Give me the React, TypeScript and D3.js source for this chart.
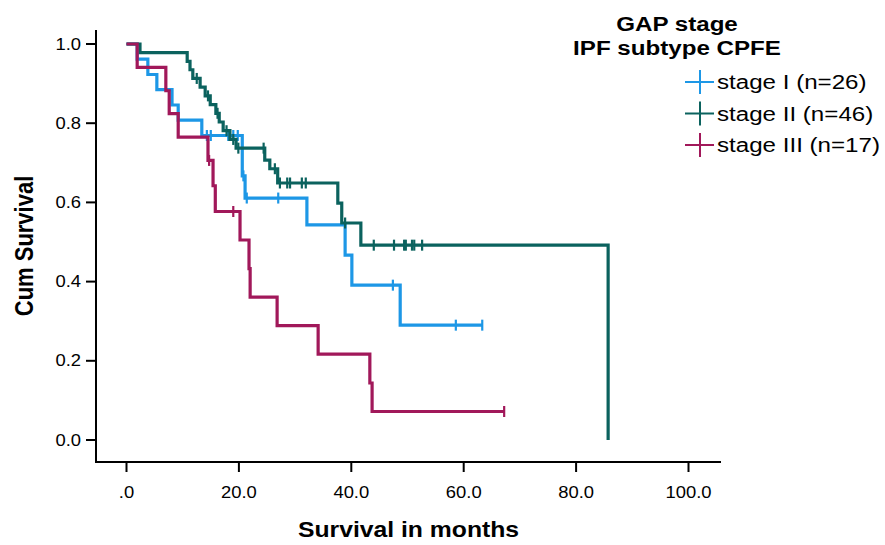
import * as d3 from 'd3';

// Kaplan-Meier steps: event time (months) and survival after the drop
const stage1Times = [1.9, 3.8, 5.4, 8.1, 9.2, 13.4, 20.6, 21.1, 32.1, 38.9, 40.1, 48.7];
const stage1Surv = [0.962, 0.923, 0.885, 0.846, 0.808, 0.769, 0.667, 0.611, 0.543, 0.467, 0.391, 0.29];
const stage1Censored = [14.3, 15.0, 18.1, 19.0, 19.8, 20.8, 21.4, 27.0, 47.4, 58.6, 63.3];

const stage2Times = [2.4, 10.8, 11.3, 11.8, 13.1, 14.0, 14.9, 15.9, 16.5, 17.2, 18.4, 19.5, 24.6, 25.5, 26.9, 37.6, 38.3, 41.7, 85.7];
const stage2Surv = [0.978, 0.956, 0.935, 0.913, 0.891, 0.869, 0.847, 0.825, 0.803, 0.781, 0.759, 0.737, 0.707, 0.685, 0.649, 0.598, 0.548, 0.492, 0];
const stage2Censored = [12.5, 14.5, 16.2, 17.8, 19.0, 19.9, 24.4, 26.4, 27.3, 28.6, 29.1, 31.2, 31.9, 38.9, 44.0, 47.6, 49.4, 49.7, 50.8, 51.2, 52.6];

const stage3Times = [1.9, 7.0, 7.6, 9.2, 14.5, 15.4, 15.8, 20.2, 21.8, 22.0, 26.8, 34.1, 43.3, 43.7];
const stage3Surv = [0.941, 0.882, 0.824, 0.765, 0.706, 0.642, 0.577, 0.505, 0.433, 0.361, 0.289, 0.217, 0.144, 0.072];
const stage3Censored = [14.7, 19.0, 67.2];

const xTicks = [0, 20, 40, 60, 80, 100];
const yTicks = [0, 0.2, 0.4, 0.6, 0.8, 1.0];

const series = [
  { label: 'stage I (n=26)', color: '#1d97e6', times: stage1Times, surv: stage1Surv, censored: stage1Censored },
  { label: 'stage II (n=46)', color: '#0b625e', times: stage2Times, surv: stage2Surv, censored: stage2Censored },
  { label: 'stage III (n=17)', color: '#a1185a', times: stage3Times, surv: stage3Surv, censored: stage3Censored },
];

const FONT = '"Liberation Sans", Arial, Helvetica, sans-serif';
const STRETCH = 1.15; // the original export is a little wider than tall

function Label({ x, y, size, bold, anchor, children }: any) {
  return (
    <text
      transform={`translate(${x},${y}) scale(${STRETCH},1)`}
      textAnchor={anchor || 'start'}
      fontFamily={FONT}
      fontSize={size}
      fontWeight={bold ? 'bold' : 'normal'}
      fill="#000"
    >
      {children}
    </text>
  );
}

export default function App() {
  const width = 885;
  const height = 545;
  const axisLeft = 96;
  const axisRight = 721;
  const axisTop = 30;
  const axisBottom = 462;

  const x = d3.scaleLinear().domain([0, 100]).range([126.5, 688.5]);
  const y = d3.scaleLinear().domain([0, 1]).range([440, 44]);

  const line = d3
    .line<[number, number]>()
    .x((d) => x(d[0]))
    .y((d) => y(d[1]))
    .curve(d3.curveStepAfter);

  const survAt = (times: number[], surv: number[], t: number) => {
    let s = 1;
    times.forEach((tt, i) => {
      if (tt <= t) s = surv[i];
    });
    return s;
  };

  const buildPoints = (s: typeof series[number]) => {
    const pts: [number, number][] = [[0, 1]];
    s.times.forEach((t, i) => pts.push([t, s.surv[i]]));
    const lastT = s.times[s.times.length - 1];
    const lastC = d3.max(s.censored) || 0;
    if (lastC > lastT) pts.push([lastC + 0.1, s.surv[s.surv.length - 1]]);
    return pts;
  };

  return (
    <div style={{ position: 'absolute', left: 0, top: 0 }}>
      <svg width={width} height={height} viewBox={`0 0 ${width} ${height}`} style={{ display: 'block', background: '#fff' }}>
        <rect width={width} height={height} fill="#fff" />

        {/* Curves */}
        {series.map((s) => (
          <g key={s.label}>
            <path d={line(buildPoints(s)) || ''} fill="none" stroke={s.color} strokeWidth={3.2} strokeLinejoin="miter" />
            {s.censored.map((c, i) => {
              const cx = x(c);
              const cy = y(survAt(s.times, s.surv, c));
              return <line key={i} x1={cx} x2={cx} y1={cy - 5.5} y2={cy + 5.5} stroke={s.color} strokeWidth={2.2} />;
            })}
          </g>
        ))}

        {/* Axes */}
        <line x1={axisLeft} x2={axisLeft} y1={axisTop} y2={axisBottom + 1} stroke="#000" strokeWidth={2} />
        <line x1={axisLeft - 1} x2={axisRight} y1={axisBottom} y2={axisBottom} stroke="#000" strokeWidth={2} />

        {yTicks.map((t) => (
          <g key={'y' + t}>
            <line x1={axisLeft - 10} x2={axisLeft} y1={y(t)} y2={y(t)} stroke="#000" strokeWidth={2} />
            <Label x={axisLeft - 15} y={y(t) + 5.5} size={16} anchor="end">
              {t.toFixed(1)}
            </Label>
          </g>
        ))}

        {xTicks.map((t) => (
          <g key={'x' + t}>
            <line x1={x(t)} x2={x(t)} y1={axisBottom} y2={axisBottom + 10} stroke="#000" strokeWidth={2} />
            <Label x={x(t)} y={axisBottom + 36} size={16} anchor="middle">
              {t === 0 ? '.0' : t.toFixed(1)}
            </Label>
          </g>
        ))}

        <Label x={(axisLeft + axisRight) / 2} y={537} size={21.5} bold anchor="middle">
          Survival in months
        </Label>
        <text
          transform={`translate(33, ${(axisTop + axisBottom) / 2}) rotate(-90) scale(1,${STRETCH})`}
          textAnchor="middle"
          fontFamily={FONT}
          fontSize={22}
          fontWeight="bold"
          fill="#000"
        >
          Cum Survival
        </text>

        {/* Legend */}
        <Label x={677} y={31} size={21} bold anchor="middle">
          GAP stage
        </Label>
        <Label x={677} y={55} size={21} bold anchor="middle">
          IPF subtype CPFE
        </Label>
        {series.map((s, i) => {
          const cy = 82 + i * 31.5;
          return (
            <g key={'leg' + s.label}>
              <line x1={685} x2={714} y1={cy} y2={cy} stroke={s.color} strokeWidth={2} />
              <line x1={700} x2={700} y1={cy - 12} y2={cy + 12} stroke={s.color} strokeWidth={2} />
              <Label x={717} y={cy + 7} size={21}>
                {s.label}
              </Label>
            </g>
          );
        })}
      </svg>
    </div>
  );
}
